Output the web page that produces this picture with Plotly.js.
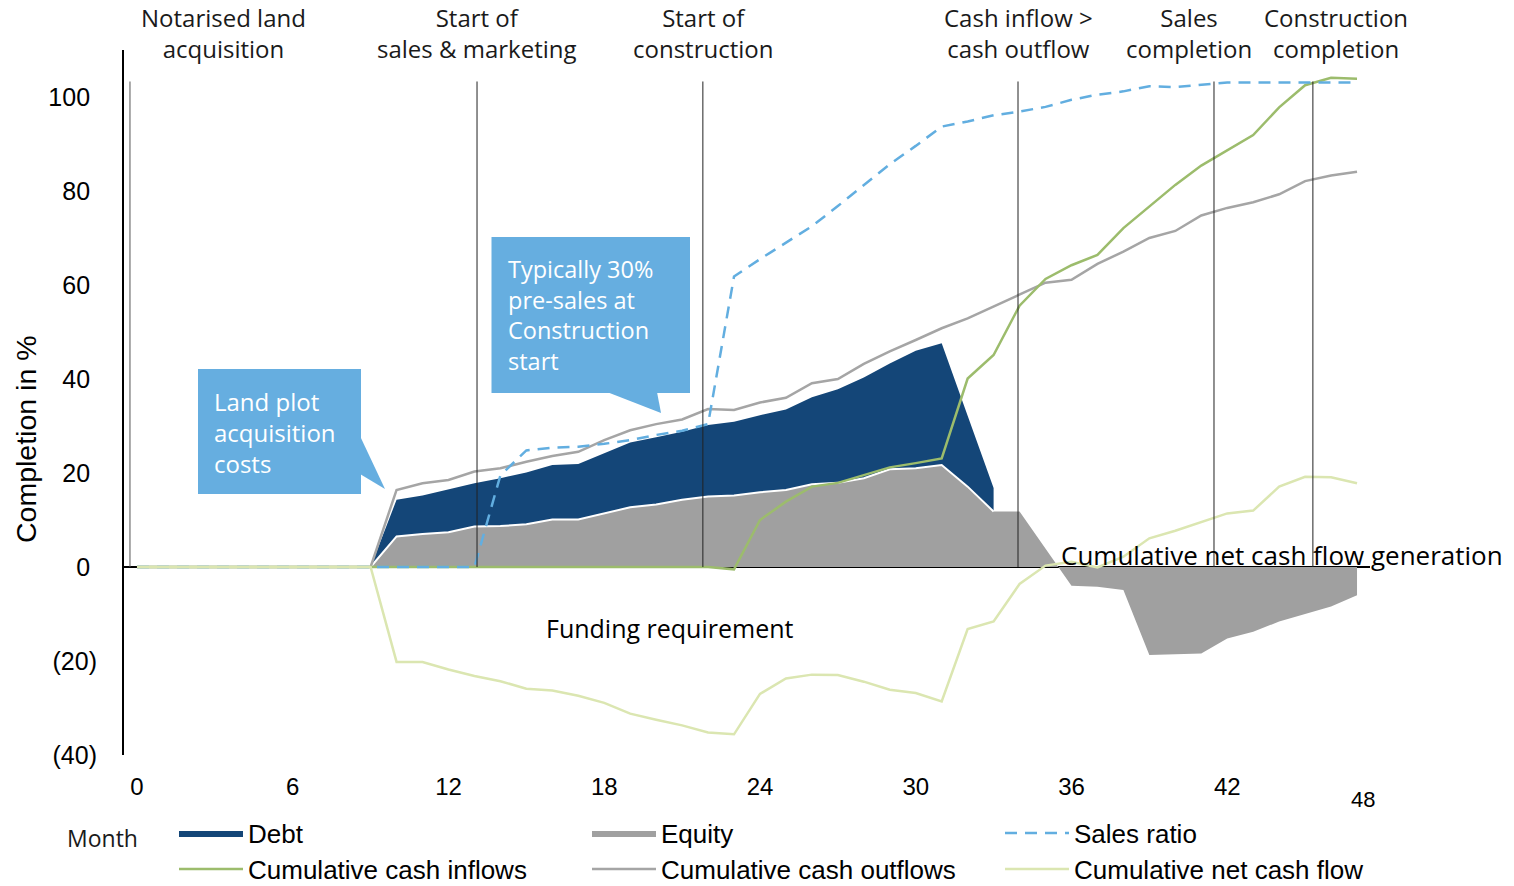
<!DOCTYPE html>
<html><head><meta charset="utf-8">
<script src="https://cdn.plot.ly/plotly-3.0.1.min.js"></script>
<style>html,body{margin:0;padding:0;background:#fff}#chart{width:1514px;height:886px}</style>
</head><body><div id="chart"></div>
<script>
// ---- data ----
const months = [0,1,2,3,4,5,6,7,8,9,10,11,12,13,14,15,16,17,18,19,20,21,22,23,24,25,26,27,28,29,30,31,32,33,34,35,36,37,38,39,40,41,42,43,44,45,46,47];
const equity = [0,0,0,0,0,0,0,0,0,0,
  6.5,7.0,7.4,8.6,8.7,9.1,10.1,10.1,11.4,12.7,13.3,14.3,15.0,15.2,15.9,16.4,17.6,17.9,18.9,20.8,21.0,21.7,17.1,11.8,
  11.8,3.9,-4.0,-4.2,-4.9,-18.7,-18.5,-18.4,-15.2,-13.8,-11.6,-10.0,-8.4,-6.0];
const debt = [null,null,null,null,null,null,null,null,null,0,
  7.8,8.2,9.1,9.2,10.2,11.0,11.6,11.8,12.8,13.8,14.3,14.5,15.2,15.7,16.4,17.1,18.5,19.9,21.4,22.5,25.0,25.9,15.1,5.0,
  null,null,null,null,null,null,null,null,null,null,null,null,null,null];
const salesRatio = [0,0,0,0,0,0,0,0,0,0,0,0,0,0,
  19.5,24.8,25.4,25.6,26.2,27.0,28.1,29.0,30.4,61.8,65.5,69.0,72.5,76.8,81.3,85.7,89.6,93.7,94.8,96.1,
  96.9,97.9,99.4,100.5,101.2,102.3,102.1,102.6,103.1,103.1,103.1,103.1,103.1,103.1];
const cumInflows = [0,0,0,0,0,0,0,0,0,0,0,0,0,0,0,0,0,0,0,0,0,0,0,
  -0.5,10.0,13.9,17.1,17.9,19.6,21.2,22.1,23.1,40.1,45.1,55.6,61.3,64.2,66.4,72.1,76.8,81.3,85.4,88.6,91.9,97.8,102.5,104.1,103.9];
const cumOutflows = [0,0,0,0,0,0,0,0,0,0,
  16.4,17.8,18.5,20.3,21.0,22.4,23.6,24.5,27.0,29.1,30.4,31.4,33.6,33.4,35.0,36.0,39.1,40.0,
  43.2,45.9,48.3,50.8,52.9,55.4,57.9,60.5,61.1,64.5,67.1,70.0,71.5,74.8,76.4,77.6,79.3,82.1,83.3,84.1];
const cumNet = [0,0,0,0,0,0,0,0,0,0,
  -20.2,-20.2,-21.8,-23.2,-24.3,-25.9,-26.3,-27.4,-28.9,-31.2,-32.5,-33.7,-35.2,-35.6,
  -27.0,-23.7,-22.9,-23.0,-24.4,-26.1,-26.8,-28.6,-13.2,-11.6,
  -3.6,0.3,1.1,-0.1,2.2,6.1,7.7,9.6,11.4,12.0,17.1,19.2,19.1,17.8];

const xTickVals = [0,6,12,18,24,30,36,42];
const xTickText = ['0','6','12','18','24','30','36','42'];
const yTickVals = [-40,-20,0,20,40,60,80,100];
const yTickText = ['(40)','(20)','0\u00a0','20\u00a0','40\u00a0','60\u00a0','80\u00a0','100\u00a0'];

const milestoneLineX = [-0.27,13.1,21.8,33.94,41.49,45.3];
const milestoneLabelX = [3.35,13.1,21.8,33.94,40.53,46.19];
const milestoneLabels = ['Notarised land<br>acquisition','Start of<br>sales &amp; marketing','Start of<br>construction',
  'Cash inflow &gt;<br>cash outflow','Sales<br>completion','Construction<br>completion'];

// ---- colours ----
const C = {debt:'#144678', equity:'#a0a0a0', sales:'#62aee0', inflow:'#9cbc6c', outflow:'#a5a5a5', net:'#dbe6b1', callout:'#66aee0'};

// pixel -> axis helpers for decorative items (callouts / labels)
const X = px => -0.5 + (px - 124) * 48 / 1246;
const Y = py => 110 - (py - 50) * 150 / 705;

// debt polygon stacked on equity
const dM = [], dTop = [], dBase = [];
months.forEach((m,i)=>{ if(debt[i]!==null){ dM.push(m); dTop.push(equity[i]+debt[i]); dBase.push(equity[i]); } });
const polyX = dM.concat(dM.slice().reverse());
const polyY = dTop.concat(dBase.slice().reverse());

const lineFont = 'Liberation Sans, Arial, sans-serif';
const txtFont = 'Open Sans, sans-serif';

const traces = [
  {name:'Equity', x:months, y:equity, type:'scatter', mode:'lines', fill:'tozeroy',
   fillcolor:C.equity, line:{width:0, color:C.equity}, legend:'legend', legendrank:2, hoverinfo:'skip'},
  {name:'Debt', x:polyX, y:polyY, type:'scatter', mode:'lines', fill:'toself',
   fillcolor:C.debt, line:{width:0, color:C.debt}, legend:'legend', legendrank:1, hoverinfo:'skip'},
  {name:'equity edge', x:dM, y:dBase, type:'scatter', mode:'lines', line:{color:'#ffffff', width:2}, showlegend:false, hoverinfo:'skip'},
  {name:'Cumulative cash outflows', x:months, y:cumOutflows, type:'scatter', mode:'lines',
   line:{color:C.outflow, width:2.5}, legend:'legend2', legendrank:5},
  {name:'Cumulative cash inflows', x:months, y:cumInflows, type:'scatter', mode:'lines',
   line:{color:C.inflow, width:2.5}, legend:'legend2', legendrank:4},
  {name:'Sales ratio', x:months, y:salesRatio, type:'scatter', mode:'lines',
   line:{color:C.sales, width:2.5, dash:'12px,8px'}, legend:'legend', legendrank:3},
  {name:'Cumulative net cash flow', x:months, y:cumNet, type:'scatter', mode:'lines',
   line:{color:C.net, width:2.5}, legend:'legend2', legendrank:6}
];

const shapes = [
  {type:'line', xref:'x', yref:'y', x0:-0.5, x1:47.5, y0:0, y1:0, line:{color:'#000', width:2}, layer:'below'}
];
milestoneLineX.forEach((xv,i)=>{
  shapes.push({type:'line', xref:'x', yref:'y', x0:xv, x1:xv, y0:0, y1:103.3,
    line:{color: i===0 ? '#555' : '#222', width:1}, layer:'above'});
});
// callout 1
shapes.push({type:'rect', xref:'x', yref:'y', x0:X(198), x1:X(361), y0:Y(494), y1:Y(369), fillcolor:C.callout, line:{width:0}, layer:'above'});
shapes.push({type:'path', xref:'x', yref:'y', path:`M ${X(360)} ${Y(436)} L ${X(385)} ${Y(489)} L ${X(360)} ${Y(474)} Z`, fillcolor:C.callout, line:{width:0}, layer:'above'});
// callout 2
shapes.push({type:'rect', xref:'x', yref:'y', x0:X(491.5), x1:X(690), y0:Y(393), y1:Y(237), fillcolor:C.callout, line:{width:0}, layer:'above'});
shapes.push({type:'path', xref:'x', yref:'y', path:`M ${X(607)} ${Y(392)} L ${X(661)} ${Y(413)} L ${X(657)} ${Y(392)} Z`, fillcolor:C.callout, line:{width:0}, layer:'above'});

const annotations = [];
milestoneLabels.forEach((t,i)=>{
  annotations.push({text:t, xref:'x', yref:'paper', x:milestoneLabelX[i], y:(755-33)/705, xanchor:'center', yanchor:'middle',
    showarrow:false, align:'center', font:{family:txtFont, size:24, color:'#1a1a1a'}});
});
annotations.push({text:'Land plot<br>acquisition<br>costs', xref:'x', yref:'y', x:X(212), y:Y(432), xanchor:'left', yanchor:'middle',
  showarrow:false, align:'left', font:{family:txtFont, size:24, color:'#ffffff'}});
annotations.push({text:'Typically 30%<br>pre-sales at<br>Construction<br>start', xref:'x', yref:'y', x:X(506), y:Y(315), xanchor:'left', yanchor:'middle',
  showarrow:false, align:'left', font:{family:txtFont, size:23.5, color:'#ffffff'}});
annotations.push({text:'Funding requirement', xref:'x', yref:'y', x:X(670), y:Y(628), xanchor:'center', yanchor:'middle',
  showarrow:false, font:{family:txtFont, size:25, color:'#000'}});
annotations.push({text:'Cumulative net cash flow generation', xref:'x', yref:'y', x:X(1059), y:Y(555), xanchor:'left', yanchor:'middle',
  showarrow:false, font:{family:txtFont, size:26, color:'#000'}});
annotations.push({text:'Completion in %', xref:'paper', yref:'paper', x:(26-124)/1246, y:(755-439)/705, xanchor:'center', yanchor:'middle',
  textangle:-90, showarrow:false, font:{family:lineFont, size:28.5, color:'#000'}});
annotations.push({text:'Month', xref:'paper', yref:'paper', x:(102-124)/1246, y:(755-838)/705, xanchor:'center', yanchor:'middle',
  showarrow:false, font:{family:txtFont, size:23, color:'#1a1a1a'}});
annotations.push({text:'48', xref:'x', yref:'paper', x:X(1363), y:(755-799)/705, xanchor:'center', yanchor:'middle',
  showarrow:false, font:{family:lineFont, size:22, color:'#000'}});

const legendCommon = {orientation:'h', xanchor:'left', yanchor:'middle', bgcolor:'rgba(0,0,0,0)',
  font:{family:lineFont, size:26, color:'#000'}, entrywidth:334, entrywidthmode:'pixels', traceorder:'normal', itemwidth:64};

const layout = {
  width:1514, height:886,
  margin:{l:124, r:144, t:50, b:131, autoexpand:false},
  paper_bgcolor:'#fff', plot_bgcolor:'#fff',
  showlegend:true,
  xaxis:{range:[-0.5,47.5], tickvals:xTickVals, ticktext:xTickText, showgrid:false, zeroline:false, showline:false,
    ticks:'outside', ticklen:10, tickcolor:'rgba(0,0,0,0)', tickfont:{family:lineFont, size:24, color:'#000'}, fixedrange:true},
  yaxis:{range:[-40,110], tickvals:yTickVals, ticktext:yTickText, showgrid:false, zeroline:false, showline:true,
    linecolor:'#000', linewidth:2, ticks:'outside', ticklen:20, tickcolor:'rgba(0,0,0,0)',
    tickfont:{family:lineFont, size:25, color:'#000'}, fixedrange:true},
  legend:Object.assign({x:(174-124)/1246, y:(755-833)/705}, legendCommon),
  legend2:Object.assign({x:(174-124)/1246, y:(755-869)/705}, legendCommon),
  shapes:shapes,
  annotations:annotations
};

Plotly.newPlot('chart', traces, layout, {staticPlot:true, displayModeBar:false});
</script>
</body></html>
